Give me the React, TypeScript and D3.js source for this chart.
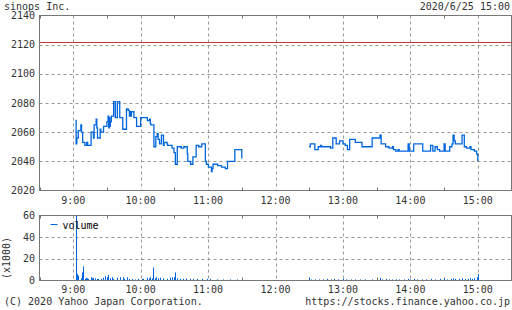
import React from "react";
import * as d3 from "d3";

// minutes since 9:00, price (step series)
const morningPrices: [number, number][] = [
  [2, 2068], [2.6, 2052], [3.2, 2056], [4.5, 2061], [6.8, 2065], [7.4, 2060], [8.4, 2053],
  [10.4, 2051], [12, 2053], [12.9, 2051], [15.9, 2060], [18, 2056], [18.6, 2065], [20.4, 2069],
  [21, 2063], [21.6, 2056], [24, 2062], [24.6, 2060], [27, 2064], [30, 2067], [31, 2071],
  [31.6, 2063], [32.2, 2070], [32.6, 2064], [33, 2067], [33.9, 2071], [36, 2081], [37.5, 2070],
  [39.3, 2081], [41.4, 2070], [44.1, 2062], [47.4, 2076], [48.9, 2075], [50, 2071], [50.6, 2074],
  [51.2, 2071], [51.8, 2074], [54, 2070], [56.4, 2064], [60, 2070], [66, 2068], [68, 2069],
  [68.6, 2066], [69, 2065], [71.8, 2050], [73.5, 2057], [74.7, 2059], [75.6, 2055], [76.8, 2052],
  [78.5, 2058], [80.3, 2051], [80.9, 2053], [83.5, 2052], [84, 2051], [88, 2049], [89.7, 2046],
  [90.9, 2038], [92.6, 2050], [96.2, 2049], [98.5, 2050], [101.5, 2045], [102, 2040], [104.4, 2038],
  [106.5, 2043], [109.4, 2051], [111.7, 2050], [114.4, 2052], [117.6, 2040], [118.5, 2038],
  [120.3, 2036], [123, 2033], [123.6, 2035], [124.4, 2038], [128.5, 2037], [132, 2036],
  [135.3, 2035], [137.3, 2040], [143.8, 2048], [150, 2042],
];

const afternoonPrices: [number, number][] = [
  [210, 2050], [211, 2052], [215, 2048], [218, 2050], [220, 2051], [221, 2050], [229, 2049],
  [231, 2056], [234, 2052], [237, 2054], [240, 2052], [242, 2051], [244, 2048], [246, 2055],
  [251, 2053], [257, 2050], [266, 2056], [273, 2058], [274, 2052], [278, 2050], [281, 2049],
  [284, 2050], [285, 2048], [287, 2047], [289, 2048], [290, 2047], [298, 2052], [299, 2047],
  [303, 2052], [311, 2047], [318, 2051], [320, 2047], [322, 2050], [324, 2048], [326, 2047],
  [330, 2052], [331, 2047], [335, 2050], [337, 2052], [338, 2058], [339, 2054], [340, 2052],
  [346, 2058], [348, 2050], [350, 2049], [353, 2050], [354, 2048], [357, 2047], [359, 2045],
  [360, 2040],
];

// minutes since 9:00, volume (x1000)
const volumes: [number, number][] = [
  [2.4, 65], [3.6, 6], [4.5, 4.5], [6.6, 2], [7.5, 4.5], [8.1, 7.5], [9, 13], [10.1, 1.5],
  [11.3, 2.5], [12.5, 2], [13.4, 1.5], [15.5, 3], [16.7, 2], [17.8, 2.5], [19.3, 2], [20.8, 1.5],
  [22.3, 1.5], [24.4, 1.5], [26.8, 2.5], [28.2, 4], [29.7, 3], [31.2, 5], [32.7, 2], [34.2, 3],
  [35.6, 1.5], [38.6, 2.5], [41.6, 3], [44, 3], [45.5, 1.5], [47.5, 3], [49.9, 1.5], [52.3, 1.5],
  [55, 1], [57.9, 1.5], [60.9, 1.5], [62.4, 1.5], [65.3, 2.5], [67.1, 2], [68.3, 3], [69.8, 2],
  [71.3, 12], [72.8, 2], [73.7, 3], [75.7, 2], [77.2, 2.5], [80.2, 2], [83.2, 1.5], [86.1, 2.5],
  [87.6, 3], [89.7, 3], [90.9, 7.5], [92.1, 2], [95, 1.5], [98, 1.5], [100.4, 2], [104, 1.5],
  [106.9, 1.5], [109.9, 1.5], [114.3, 1.5], [118.8, 1.5], [121.8, 1.5], [127.7, 1], [133.6, 1],
  [139.6, 1], [145.5, 1],
  [210, 2.5], [212, 1], [215, 1], [219, 1], [222, 1], [226, 1.5], [229, 1], [232, 1.5], [236, 1],
  [240, 1.5], [243, 1], [247, 1], [251, 1], [255, 1], [260, 1], [266, 1], [273, 2.5], [275, 1],
  [278, 1.5], [281, 1], [284, 1], [287, 1], [290, 1], [294, 1], [298, 1.5], [300, 1], [303, 1.5],
  [306, 1], [310, 1], [314, 1], [318, 1.5], [322, 1], [326, 1.5], [330, 2], [333, 1], [336, 1.5],
  [338, 2], [340, 1.5], [343, 1.5], [346, 2], [349, 1.5], [351, 1.5], [353, 2], [355, 1.5],
  [357, 2], [359, 3], [360, 6],
];

const previousClose = 2122;
const priceTicks = [2020, 2040, 2060, 2080, 2100, 2120, 2140];
const volumeTicks = [0, 20, 40, 60];
const hourTicks = [0, 60, 120, 180, 240, 300, 360];
const hourLabels = ["9:00", "10:00", "11:00", "12:00", "13:00", "14:00", "15:00"];
const halfHourTicks = [-30, 30, 90, 150, 210, 270, 330, 390];

const title = "sinops Inc.";
const dateLabel = "2020/6/25 15:00";
const copyright = "(C) 2020 Yahoo Japan Corporation.";
const url = "https://stocks.finance.yahoo.co.jp";

export default function App() {
  const W = 512, H = 310;
  const left = 39.5, right = 511.5;
  const pTop = 15.5, pBot = 190.5;
  const vTop = 215.5, vBot = 280.5;
  const font = "'DejaVu Sans Mono', 'Liberation Mono', monospace";
  const textColor = "#333";
  const blue = "#0066dd";
  const gridColor = "#999";
  const frameColor = "#777";

  const x = d3.scaleLinear().domain([-30, 390]).range([left, right]);
  const y = d3.scaleLinear().domain([2020, 2140]).range([pBot, pTop]);
  const yv = d3.scaleLinear().domain([0, 60]).range([vBot, vTop]);

  const line = d3
    .line<[number, number]>()
    .x((d) => x(d[0]))
    .y((d) => y(d[1]))
    .curve(d3.curveStepAfter);

  const fs = 10;

  const panelGrid = (top: number, bot: number, hTicks: number[], ys: (v: number) => number) => (
    <g>
      {hTicks.map((t) => (
        <line key={"h" + t} x1={left} x2={right} y1={Math.round(ys(t)) + 0.5} y2={Math.round(ys(t)) + 0.5}
          stroke={gridColor} strokeDasharray="3,3" strokeWidth={1} />
      ))}
      {hourTicks.map((t) => (
        <line key={"v" + t} x1={Math.round(x(t)) + 0.5} x2={Math.round(x(t)) + 0.5} y1={top} y2={bot}
          stroke={gridColor} strokeDasharray="3,3" strokeWidth={1} />
      ))}
      {halfHourTicks.map((t) => (
        <g key={"t" + t}>
          <line x1={Math.round(x(t)) + 0.5} x2={Math.round(x(t)) + 0.5} y1={top} y2={top + 3} stroke={frameColor} />
          <line x1={Math.round(x(t)) + 0.5} x2={Math.round(x(t)) + 0.5} y1={bot - 3} y2={bot} stroke={frameColor} />
        </g>
      ))}
    </g>
  );

  return (
    <svg width={W} height={H} style={{ position: "absolute", left: 0, top: 0, background: "#fff" }}
      fontFamily={font} fontSize={fs}>
      <rect x={0} y={0} width={W} height={H} fill="#fff" />
      <defs>
        <clipPath id="vclip">
          <rect x={left} y={vTop} width={right - left} height={vBot - vTop} />
        </clipPath>
      </defs>

      {/* header */}
      <text x={4} y={9.5} fill={textColor}>{title}</text>
      <text x={510} y={9.5} fill={textColor} textAnchor="end">{dateLabel}</text>

      {/* price panel */}
      {panelGrid(pTop, pBot, priceTicks.slice(1, -1), y)}
      <line x1={left} x2={right} y1={Math.round(y(previousClose)) + 0.5} y2={Math.round(y(previousClose)) + 0.5}
        stroke="#cc3333" strokeWidth={1} />
      <path d={line(morningPrices) || ""} fill="none" stroke={blue} strokeWidth={1.3} />
      <path d={line(afternoonPrices) || ""} fill="none" stroke={blue} strokeWidth={1.3} />
      <rect x={left} y={pTop} width={right - left} height={pBot - pTop} fill="none" stroke={frameColor} strokeWidth={1} />
      {priceTicks.map((t) => (
        <text key={t} x={35} y={y(t)} dy="0.35em" textAnchor="end" fill={textColor}>{t}</text>
      ))}
      {hourTicks.map((t, i) => (
        <text key={t} x={x(t)} y={203.5} textAnchor="middle" fill={textColor}>{hourLabels[i]}</text>
      ))}

      {/* volume panel */}
      {panelGrid(vTop, vBot, volumeTicks.slice(1, -1), yv)}
      <g clipPath="url(#vclip)">
        {volumes.map(([t, v], i) => (
          <rect key={i} x={Math.round(x(t))} y={yv(v)} width={1} height={vBot - yv(v)} fill={blue} />
        ))}
      </g>
      <rect x={left} y={vTop} width={right - left} height={vBot - vTop} fill="none" stroke={frameColor} strokeWidth={1} />
      {volumeTicks.map((t) => (
        <text key={t} x={35} y={yv(t)} dy="0.35em" textAnchor="end" fill={textColor}>{t}</text>
      ))}
      {hourTicks.map((t, i) => (
        <text key={t} x={x(t)} y={292.5} textAnchor="middle" fill={textColor}>{hourLabels[i]}</text>
      ))}
      <line x1={50.5} x2={57.5} y1={224.5} y2={224.5} stroke={blue} strokeWidth={1} />
      <text x={62.5} y={228.5} fill="#000">volume</text>
      <text transform="translate(10,258) rotate(-90)" textAnchor="middle" fill={textColor}>(x1000)</text>

      {/* footer */}
      <text x={4} y={305} fill={textColor}>{copyright}</text>
      <text x={510} y={305} fill={textColor} textAnchor="end">{url}</text>
    </svg>
  );
}
